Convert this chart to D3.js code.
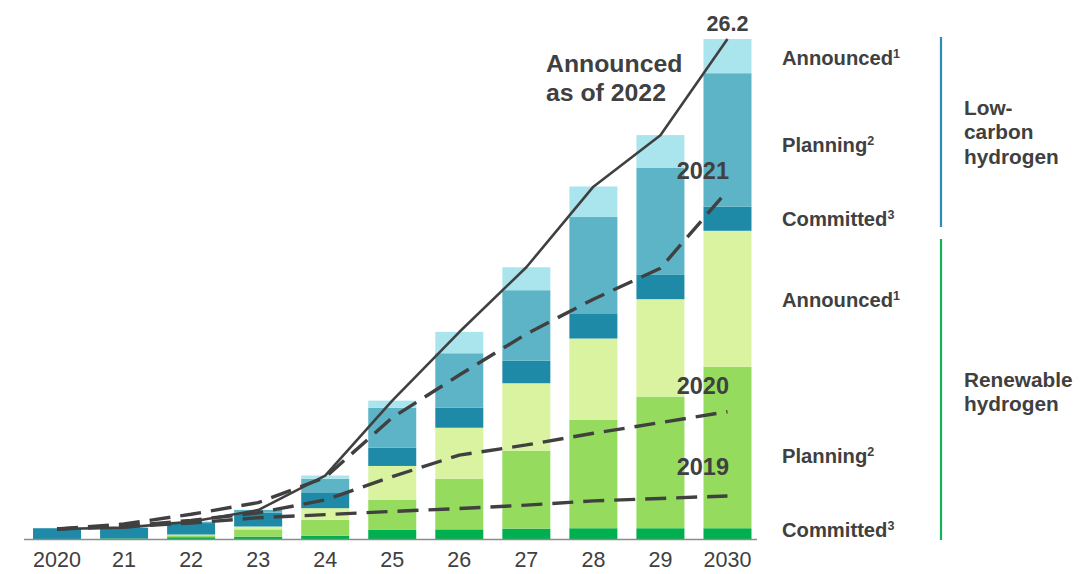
<!DOCTYPE html>
<html>
<head>
<meta charset="utf-8">
<script src="https://cdn.jsdelivr.net/npm/d3@7"></script>
<style>
  html, body { margin: 0; padding: 0; background: #ffffff; }
  svg { display: block; font-family: "Liberation Sans", Arial, sans-serif; }
</style>
</head>
<body>
<svg id="chart" width="1085" height="574"></svg>
<script>
// ---- Data (GW) ----
const categories = ["2020", "21", "22", "23", "24", "25", "26", "27", "28", "29", "2030"];

const renewableCommitted = [0.00, 0.06, 0.12, 0.15, 0.19, 0.50, 0.53, 0.57, 0.59, 0.59, 0.59];
const renewablePlanning  = [0.00, 0.00, 0.10, 0.38, 0.84, 1.59, 2.65, 4.08, 5.67, 6.89, 8.45];
const renewableAnnounced = [0.00, 0.00, 0.04, 0.15, 0.61, 1.76, 2.67, 3.53, 4.26, 5.10, 7.12];
const lowCarbonCommitted = [0.59, 0.56, 0.60, 0.73, 0.83, 0.96, 1.05, 1.18, 1.32, 1.27, 1.27];
const lowCarbonPlanning  = [0.00, 0.00, 0.07, 0.14, 0.71, 2.09, 2.85, 3.69, 5.04, 5.62, 6.98];
const lowCarbonAnnounced = [0.00, 0.00, 0.00, 0.00, 0.17, 0.37, 1.12, 1.20, 1.60, 1.70, 1.79];

const announced2022 = [0.55, 0.62, 0.93, 1.54, 3.34, 7.27, 10.86, 14.25, 18.47, 21.16, 26.2];
const announced2021 = [0.55, 0.81, 1.32, 1.93, 3.25, 6.38, 8.61, 10.76, 12.58, 14.20, 18.26];
const announced2020 = [0.55, 0.70, 1.00, 1.40, 2.07, 3.29, 4.42, 4.95, 5.56, 6.12, 6.69];
const announced2019 = [0.55, 0.68, 0.86, 1.14, 1.30, 1.47, 1.62, 1.80, 2.02, 2.15, 2.28];

const seriesKeys = ["rc", "rp", "ra", "lc", "lp", "la"];
const seriesColors = {
  rc: "#00b050", rp: "#95dc5e", ra: "#d9f3a0",
  lc: "#1f8aa8", lp: "#5cb4c6", la: "#aae5ee"
};
const totalLabel = "26.2";

// ---- Build table for stacking ----
const table = categories.map((c, i) => ({
  cat: c,
  rc: renewableCommitted[i], rp: renewablePlanning[i], ra: renewableAnnounced[i],
  lc: lowCarbonCommitted[i], lp: lowCarbonPlanning[i], la: lowCarbonAnnounced[i]
}));
const stacked = d3.stack().keys(seriesKeys)(table);

const svg = d3.select("#chart");
const x = d3.scaleBand().domain(categories).range([23.5, 761]).paddingInner(0.284).paddingOuter(0.142);
const y = d3.scaleLinear().domain([0, 26.2]).range([539.5, 39]);
const textColor = "#404040";

// Bars
svg.append("g").selectAll("g").data(stacked).join("g")
  .attr("fill", d => seriesColors[d.key])
  .selectAll("rect").data(d => d).join("rect")
  .attr("x", d => x(d.data.cat))
  .attr("width", x.bandwidth())
  .attr("y", d => y(d[1]))
  .attr("height", d => Math.max(0, y(d[0]) - y(d[1])));

// Axis
const xAxis = d3.axisBottom(x).tickSize(0).tickPadding(12);
const gx = svg.append("g").attr("transform", `translate(0,${y(0)})`).call(xAxis);
gx.select(".domain").attr("stroke", "#8c8c8c").attr("stroke-width", 1.6).attr("d", "M0,0H757").attr("transform", "translate(0,0)");
gx.select(".domain").attr("d", "M24,0H757");
gx.selectAll(".tick text").attr("fill", textColor).attr("font-size", 21.5)
  .attr("font-family", "Liberation Sans, Arial, sans-serif");

// Lines
const cx = c => x(c) + x.bandwidth() / 2;
const line = d3.line().x((d, i) => cx(categories[i])).y(d => y(d));
const lineG = svg.append("g").attr("fill", "none").attr("stroke", "#404040").attr("stroke-linejoin", "round");
[announced2019, announced2020, announced2021].forEach(arr => {
  lineG.append("path").attr("d", line(arr)).attr("stroke-width", 3.4).attr("stroke-dasharray", "21,10");
});
lineG.append("path").attr("d", line(announced2022)).attr("stroke-width", 2.6);

// Labels
const lab = svg.append("g").attr("fill", textColor).attr("font-weight", "bold");
lab.append("text").attr("x", cx("2030")).attr("y", 31).attr("text-anchor", "middle").attr("font-size", 21.5).text(totalLabel);
const ann = lab.append("text").attr("x", 546).attr("y", 72).attr("font-size", 24.8);
ann.append("tspan").attr("x", 546).attr("dy", 0).text("Announced");
ann.append("tspan").attr("x", 546).attr("dy", 28.5).text("as of 2022");
lab.append("text").attr("x", 729).attr("y", 179).attr("text-anchor", "end").attr("font-size", 23.5).text("2021");
lab.append("text").attr("x", 729).attr("y", 394).attr("text-anchor", "end").attr("font-size", 23.5).text("2020");
lab.append("text").attr("x", 729).attr("y", 475).attr("text-anchor", "end").attr("font-size", 23.5).text("2019");

// Legend
const legendItems = [
  { t: "Announced", s: "1", y: 65 },
  { t: "Planning", s: "2", y: 152 },
  { t: "Committed", s: "3", y: 226 },
  { t: "Announced", s: "1", y: 307 },
  { t: "Planning", s: "2", y: 463 },
  { t: "Committed", s: "3", y: 537 }
];
legendItems.forEach(it => {
  const t = lab.append("text").attr("x", 782).attr("y", it.y).attr("font-size", 20.2);
  t.append("tspan").text(it.t);
  t.append("tspan").attr("font-size", 12.5).attr("dy", -7).text(it.s);
});
svg.append("line").attr("x1", 941).attr("x2", 941).attr("y1", 37).attr("y2", 227)
  .attr("stroke", "#2a8db5").attr("stroke-width", 2.2);
svg.append("line").attr("x1", 941).attr("x2", 941).attr("y1", 239).attr("y2", 540)
  .attr("stroke", "#12b457").attr("stroke-width", 2.2);
const g1 = lab.append("text").attr("font-size", 20.8);
[["Low-", 114.5], ["carbon", 139], ["hydrogen", 163.5]].forEach(([t, yy]) => g1.append("tspan").attr("x", 964).attr("y", yy).text(t));
const g2 = lab.append("text").attr("font-size", 20.8);
[["Renewable", 386.5], ["hydrogen", 411]].forEach(([t, yy]) => g2.append("tspan").attr("x", 964).attr("y", yy).text(t));
</script>
</body>
</html>
